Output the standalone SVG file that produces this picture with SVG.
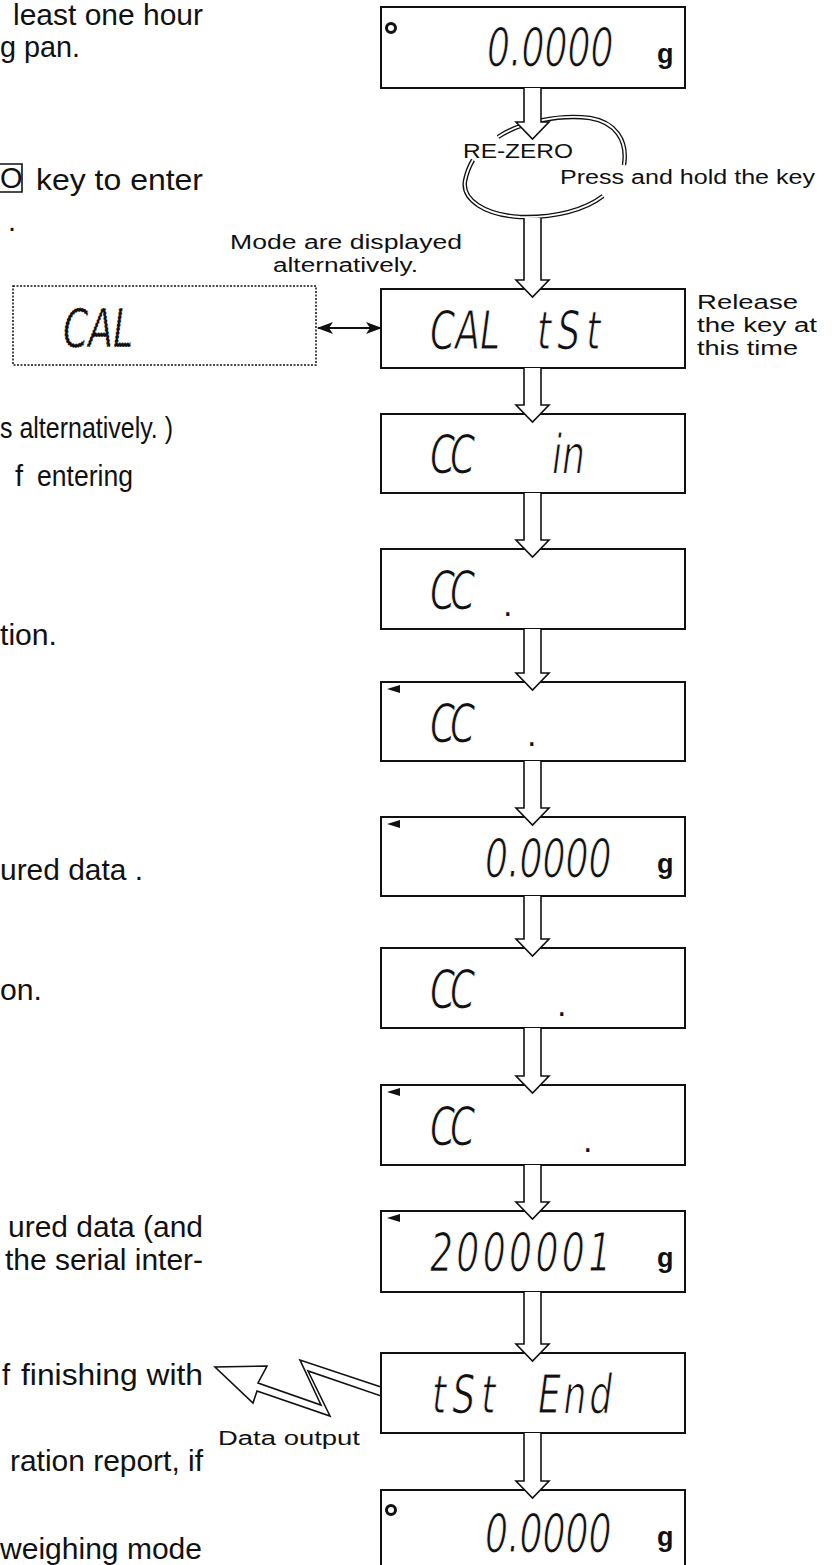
<svg xmlns="http://www.w3.org/2000/svg" width="839" height="1565" viewBox="0 0 839 1565">
<defs>
<style>
.box{fill:#fff;stroke:#111;stroke-width:2}
.dbox{fill:#fff;stroke:#111;stroke-width:1.5;stroke-dasharray:2 1.5}
.lcd{font-family:"DejaVu Sans","Liberation Sans",sans-serif;font-style:italic;font-weight:200;font-size:54px;fill:#111;stroke:#fff;stroke-width:1.2}
.dot{font-family:"DejaVu Sans","Liberation Sans",sans-serif;font-size:30px;fill:#111}
.unit{font-family:"Liberation Sans",Arial,sans-serif;font-weight:bold;font-size:27px;fill:#111}
.body{font-family:"Liberation Sans",Arial,sans-serif;font-size:29px;fill:#111}
.lbl{font-family:"Liberation Sans",Arial,sans-serif;font-size:20px;fill:#111}
.arr{fill:#fff;stroke:#111;stroke-width:1.6;stroke-linejoin:miter}
.loopo{fill:none;stroke:#111;stroke-width:4.5}
.loopi{fill:none;stroke:#fff;stroke-width:1.8}
.ind{fill:#111}
.led{fill:#fff;stroke:#111;stroke-width:3}
</style>
<marker id="ah" viewBox="0 0 16 12" refX="15" refY="6" markerWidth="16" markerHeight="12" markerUnits="userSpaceOnUse" orient="auto-start-reverse">
<path d="M0,0 L16,6 L0,12 L4,6 Z" fill="#111"/>
</marker>
</defs>

<g id="left-text">
<text class="body" x="203" y="25" font-size="26" text-anchor="end" textLength="190" lengthAdjust="spacingAndGlyphs">least one hour</text>
<text class="body" x="0" y="57" font-size="26" textLength="80" lengthAdjust="spacingAndGlyphs">g pan.</text>
<path d="M0,164 H22 V192 H0" fill="none" stroke="#111" stroke-width="1.6"/>
<text class="body" x="0" y="188" font-size="26">O</text>
<text class="body" x="203" y="190" text-anchor="end" textLength="167" lengthAdjust="spacingAndGlyphs">key to enter</text>
<text class="body" x="8" y="231">.</text>
<text class="body" x="0" y="438" font-size="26" textLength="173" lengthAdjust="spacingAndGlyphs">s alternatively. )</text>
<text class="body" y="486"><tspan x="15">f</tspan><tspan x="37" textLength="96" lengthAdjust="spacingAndGlyphs">entering</tspan></text>
<text class="body" x="0" y="645" textLength="57" lengthAdjust="spacingAndGlyphs">tion.</text>
<text class="body" x="0" y="880" textLength="143" lengthAdjust="spacingAndGlyphs">ured data .</text>
<text class="body" x="0" y="1000" textLength="42" lengthAdjust="spacingAndGlyphs">on.</text>
<text class="body" x="203" y="1237" text-anchor="end" textLength="195" lengthAdjust="spacingAndGlyphs">ured data (and</text>
<text class="body" x="203" y="1270" text-anchor="end" textLength="198" lengthAdjust="spacingAndGlyphs">the serial inter-</text>
<text class="body" y="1385"><tspan x="2">f</tspan><tspan x="203" text-anchor="end" textLength="182" lengthAdjust="spacingAndGlyphs">finishing with</tspan></text>
<text class="body" x="203" y="1471" text-anchor="end" textLength="193" lengthAdjust="spacingAndGlyphs">ration report, if</text>
<text class="body" x="0" y="1559" textLength="202" lengthAdjust="spacingAndGlyphs">weighing mode</text>
</g>

<g id="connectors">
<path class="loopo" d="M498,137 C520,122 560,114 590,118 C615,122 628,140 624,165"/>
<path class="loopi" d="M498,137 C520,122 560,114 590,118 C615,122 628,140 624,165"/>
<path class="loopo" d="M603,196 C585,210 555,218 520,217 C485,215 462,200 465,181 C467,171 470,165 473,160"/>
<path class="loopi" d="M603,196 C585,210 555,218 520,217 C485,215 462,200 465,181 C467,171 470,165 473,160"/>
<line x1="318" y1="328" x2="381" y2="328" stroke="#111" stroke-width="2" marker-start="url(#ah)" marker-end="url(#ah)"/>
<polygon class="arr" points="381,1387 300,1360 321,1405 258,1383 267,1366 215,1367 253,1403 257,1391 330,1416 308,1371 381,1396"/>
</g>

<g id="n1"><rect class="box" x="381" y="7" width="304" height="81"/><circle class="led" cx="391" cy="28" r="4.5"/><text class="lcd" transform="translate(487,66) scale(0.67,1)">0.0000</text><text class="unit" x="657" y="63">g</text></g>
<g id="n0"><rect class="dbox" x="13" y="286" width="303" height="79"/><text class="lcd" transform="translate(63,347) scale(0.67,1)" fill="#333" stroke-dasharray="2 2">CAL</text></g>
<g id="n2"><rect class="box" x="381" y="289" width="304" height="79"/><text class="lcd" transform="translate(430,349) scale(0.67,1)">CAL</text><text class="lcd" transform="translate(537,349) scale(0.67,1)" letter-spacing="9">tSt</text></g>
<g id="n3"><rect class="box" x="381" y="414" width="304" height="79"/><text class="lcd" transform="translate(430,473) scale(0.67,1)" letter-spacing="-8">CC</text><text class="lcd" transform="translate(552,473) scale(0.67,1)">in</text></g>
<g id="n4"><rect class="box" x="381" y="549" width="304" height="80"/><text class="lcd" transform="translate(430,609) scale(0.67,1)" letter-spacing="-8">CC</text><text class="dot" x="503" y="616">.</text></g>
<g id="n5"><rect class="box" x="381" y="682" width="304" height="79"/><polygon class="ind" points="387,689 400,685 400,693"/><text class="lcd" transform="translate(430,742) scale(0.67,1)" letter-spacing="-8">CC</text><text class="dot" x="527" y="746">.</text></g>
<g id="n6"><rect class="box" x="381" y="817" width="304" height="79"/><polygon class="ind" points="387,824 400,820 400,828"/><text class="lcd" transform="translate(485,877) scale(0.67,1)">0.0000</text><text class="unit" x="657" y="873">g</text></g>
<g id="n7"><rect class="box" x="381" y="948" width="304" height="80"/><text class="lcd" transform="translate(430,1008) scale(0.67,1)" letter-spacing="-8">CC</text><text class="dot" x="557" y="1016">.</text></g>
<g id="n8"><rect class="box" x="381" y="1085" width="304" height="80"/><polygon class="ind" points="387,1092 400,1088 400,1096"/><text class="lcd" transform="translate(430,1145) scale(0.67,1)" letter-spacing="-8">CC</text><text class="dot" x="583" y="1152">.</text></g>
<g id="n9"><rect class="box" x="381" y="1211" width="304" height="81"/><polygon class="ind" points="387,1218 400,1214 400,1222"/><text class="lcd" transform="translate(430,1271) scale(0.67,1)" letter-spacing="5">2000001</text><text class="unit" x="657" y="1267">g</text></g>
<g id="n10"><rect class="box" x="381" y="1353" width="304" height="80"/><text class="lcd" transform="translate(432,1413) scale(0.67,1)" letter-spacing="9">tSt</text><text class="lcd" transform="translate(538,1413) scale(0.67,1)" letter-spacing="4">End</text></g>
<g id="n11"><rect class="box" x="381" y="1490" width="304" height="82"/><circle class="led" cx="391" cy="1510" r="4.5"/><text class="lcd" transform="translate(485,1552) scale(0.67,1)">0.0000</text><text class="unit" x="657" y="1546">g</text></g>

<g id="arrows">
<path class="arr" d="M524,88 V122 H516 L532.5,139 L549,122 H541 V88"/>
<path class="arr" d="M524,218 V280 H516 L532.5,297 L549,280 H541 V218"/>
<path class="arr" d="M524,368 V405 H516 L532.5,422 L549,405 H541 V368"/>
<path class="arr" d="M524,493 V540 H516 L532.5,557 L549,540 H541 V493"/>
<path class="arr" d="M524,629 V673 H516 L532.5,690 L549,673 H541 V629"/>
<path class="arr" d="M524,761 V808 H516 L532.5,825 L549,808 H541 V761"/>
<path class="arr" d="M524,896 V939 H516 L532.5,956 L549,939 H541 V896"/>
<path class="arr" d="M524,1028 V1076 H516 L532.5,1093 L549,1076 H541 V1028"/>
<path class="arr" d="M524,1165 V1202 H516 L532.5,1219 L549,1202 H541 V1165"/>
<path class="arr" d="M524,1292 V1344 H516 L532.5,1361 L549,1344 H541 V1292"/>
<path class="arr" d="M524,1433 V1481 H516 L532.5,1498 L549,1481 H541 V1433"/>
</g>

<g id="labels">
<text class="lbl" x="463" y="158" font-size="22" textLength="110" lengthAdjust="spacingAndGlyphs">RE-ZERO</text>
<text class="lbl" x="560" y="184" font-size="22" textLength="255" lengthAdjust="spacingAndGlyphs">Press and hold the key</text>
<text class="lbl" x="230" y="249" textLength="232" lengthAdjust="spacingAndGlyphs">Mode are displayed</text>
<text class="lbl" x="273" y="272" textLength="145" lengthAdjust="spacingAndGlyphs">alternatively.</text>
<text class="lbl" x="697" y="309" textLength="101" lengthAdjust="spacingAndGlyphs">Release</text>
<text class="lbl" x="697" y="332" textLength="120" lengthAdjust="spacingAndGlyphs">the key at</text>
<text class="lbl" x="697" y="355" textLength="101" lengthAdjust="spacingAndGlyphs">this time</text>
<text class="lbl" x="218" y="1445" font-size="24" textLength="142" lengthAdjust="spacingAndGlyphs">Data output</text>
</g>
</svg>
